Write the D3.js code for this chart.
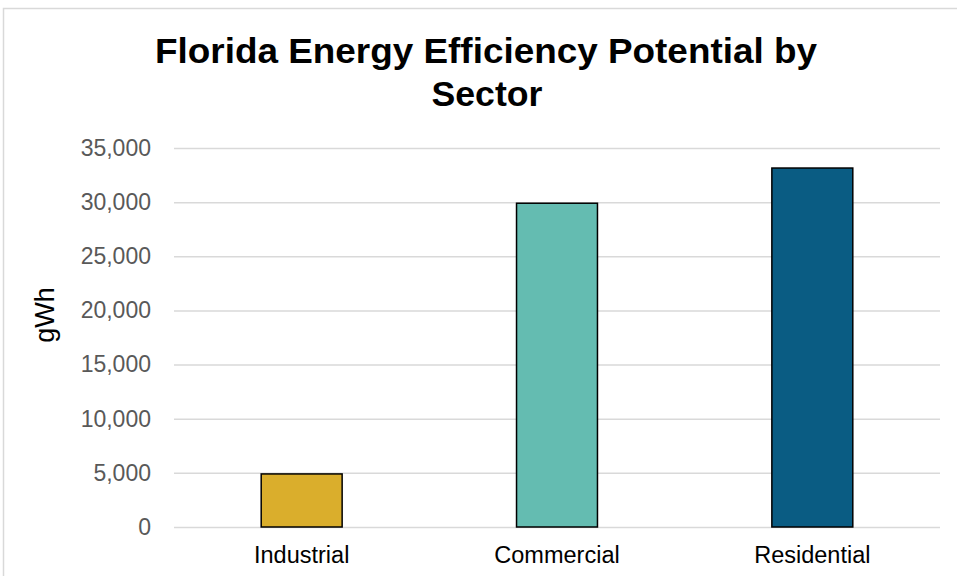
<!DOCTYPE html>
<html>
<head>
<meta charset="utf-8">
<script src="https://cdn.jsdelivr.net/npm/d3@7"></script>
<style>
  body { margin: 0; background: #fff; }
  text { font-family: "Liberation Sans", Arial, sans-serif; }
</style>
</head>
<body>
<div id="chart"></div>
<script>
// Chart data
var sectors = ["Industrial", "Commercial", "Residential"];
var potential = [4900, 29900, 33150];
var barColors = ["#DAAE2C", "#64BCB1", "#0A5C83"];
var yTicks = [0, 5000, 10000, 15000, 20000, 25000, 30000, 35000];

var svgWidth = 957;
var svgHeight = 576;

var margin = { top: 148, right: 17, bottom: 49, left: 174 };
var width = svgWidth - margin.left - margin.right;
var height = svgHeight - margin.top - margin.bottom;

var svg = d3.select("#chart")
  .append("svg")
  .attr("width", svgWidth)
  .attr("height", svgHeight);

// outer chart frame
svg.append("rect")
  .attr("x", 3.5)
  .attr("y", 8.5)
  .attr("width", 1000)
  .attr("height", 1000)
  .attr("fill", "none")
  .attr("stroke", "#d9d9d9")
  .attr("stroke-width", 1.5);

// title, two lines
var title = svg.append("g");
title.append("text")
  .attr("x", 486)
  .attr("y", 63)
  .attr("text-anchor", "middle")
  .attr("font-size", "35px")
  .attr("font-weight", "bold")
  .attr("textLength", 662)
  .attr("lengthAdjust", "spacingAndGlyphs")
  .text("Florida Energy Efficiency Potential by");
title.append("text")
  .attr("x", 487)
  .attr("y", 106)
  .attr("text-anchor", "middle")
  .attr("font-size", "35px")
  .attr("font-weight", "bold")
  .attr("textLength", 111)
  .attr("lengthAdjust", "spacingAndGlyphs")
  .text("Sector");

var chartGroup = svg.append("g")
  .attr("transform", `translate(${margin.left}, ${margin.top})`);

var xScale = d3.scaleBand()
  .domain(sectors)
  .range([0, width])
  .paddingInner(0.683)
  .paddingOuter(0.3415);

var yScale = d3.scaleLinear()
  .domain([0, 35000])
  .range([height, 0]);

// gridlines + y labels
var leftAxis = d3.axisLeft(yScale)
  .tickValues(yTicks)
  .tickSize(-width)
  .tickPadding(23)
  .tickFormat(d3.format(","));

var yAxis = chartGroup.append("g").call(leftAxis);
yAxis.select(".domain").remove();
yAxis.selectAll(".tick line")
  .attr("stroke", "#d9d9d9")
  .attr("stroke-width", 1.5);
yAxis.selectAll(".tick text")
  .attr("fill", "#595959")
  .attr("font-size", "23px")
  .attr("font-family", "Liberation Sans, Arial, sans-serif");

// bars
chartGroup.selectAll(".bar")
  .data(sectors)
  .enter()
  .append("rect")
  .attr("class", "bar")
  .attr("x", d => xScale(d))
  .attr("y", (d, i) => yScale(potential[i]))
  .attr("width", xScale.bandwidth())
  .attr("height", (d, i) => height - yScale(potential[i]))
  .attr("fill", (d, i) => barColors[i])
  .attr("stroke", "#000")
  .attr("stroke-width", 1.5);

// x labels
var bottomAxis = d3.axisBottom(xScale).tickSize(0).tickPadding(19);
var xAxis = chartGroup.append("g")
  .attr("transform", `translate(0, ${height})`)
  .call(bottomAxis);
xAxis.select(".domain").remove();
xAxis.selectAll(".tick text")
  .attr("fill", "#000")
  .attr("font-size", "23.5px")
  .attr("font-family", "Liberation Sans, Arial, sans-serif");

// y axis title
svg.append("text")
  .attr("transform", "translate(54, 315) rotate(-90)")
  .attr("text-anchor", "middle")
  .attr("font-size", "27px")
  .attr("fill", "#000")
  .text("gWh");
</script>
</body>
</html>
